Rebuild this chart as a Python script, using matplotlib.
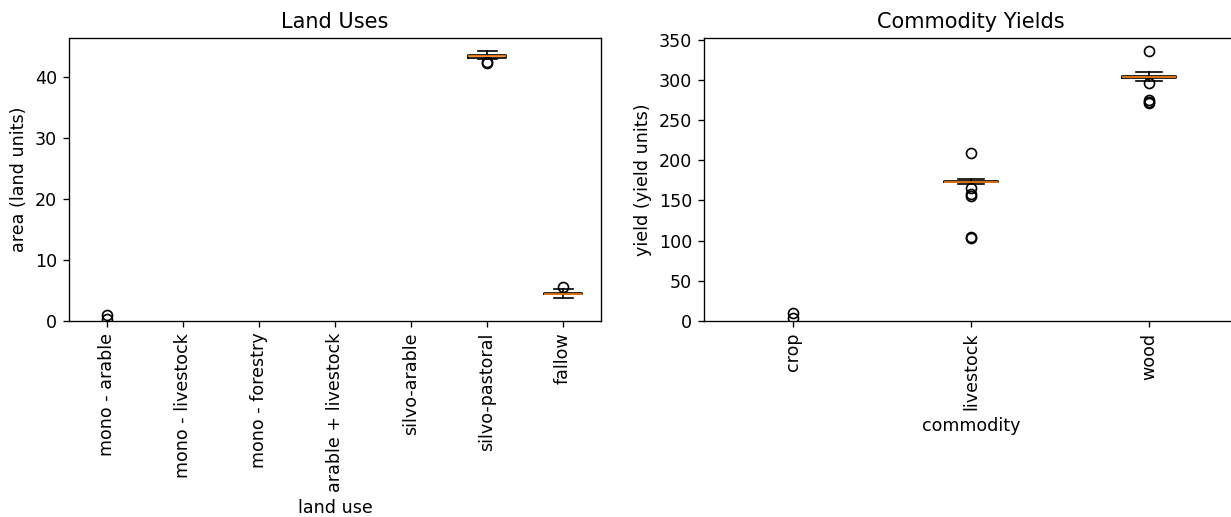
import numpy as np
import matplotlib
matplotlib.use("Agg")
import matplotlib.pyplot as plt

plt.rcParams["font.size"] = 10.5
plt.rcParams["axes.titlesize"] = 12.5

# land use areas (land units) - box stats per category, None = no data
land_uses = ["mono - arable", "mono - livestock", "mono - forestry",
             "arable + livestock", "silvo-arable", "silvo-pastoral", "fallow"]
land_whislo = [0.0, None, None, None, None, 42.9, 3.8]
land_q1 = [0.0, None, None, None, None, 43.2, 4.4]
land_med = [0.0, None, None, None, None, 43.4, 4.5]
land_q3 = [0.0, None, None, None, None, 43.6, 4.6]
land_whishi = [0.0, None, None, None, None, 44.2, 5.2]
land_fliers = [[0.95, 0.3], [], [], [], [], [42.5, 42.3], [5.6]]

# commodity yields (yield units)
commodities = ["crop", "livestock", "wood"]
yield_whislo = [0.0, 171.0, 299.0]
yield_q1 = [0.0, 172.5, 302.0]
yield_med = [0.0, 173.0, 303.0]
yield_q3 = [0.0, 174.0, 304.5]
yield_whishi = [0.0, 176.5, 309.5]
yield_fliers = [[9.5, 4.0], [209, 165, 158, 155, 105, 103], [336, 296, 275, 273, 271]]


def draw_boxes(ax, labels, lo, q1, med, q3, hi, fliers):
    w = 0.5 if len(labels) > 4 else 0.3
    for i in range(len(labels)):
        if med[i] is None:
            continue
        st = dict(whislo=lo[i], q1=q1[i], med=med[i], q3=q3[i],
                  whishi=hi[i], fliers=fliers[i])
        flat = hi[i] == lo[i]
        # boxes that collapse onto zero only show their outliers
        ax.bxp([st], positions=[i + 1], widths=w, showbox=not flat,
               showcaps=not flat,
               medianprops=dict(linewidth=0) if flat else None,
               whiskerprops=dict(linewidth=0) if flat else None)
    ax.set_xlim(0.5, len(labels) + 0.5)
    ax.set_xticks(range(1, len(labels) + 1), labels, rotation=90)


W, H = 1231, 517
fig = plt.figure(figsize=(W / 120, H / 120), dpi=120)

ax1 = fig.add_axes([69 / W, (H - 321) / H, 532 / W, 283 / H])
draw_boxes(ax1, land_uses, land_whislo, land_q1, land_med, land_q3,
           land_whishi, land_fliers)
ax1.set_ylim(0, 46.4)
ax1.set_title("Land Uses")
ax1.set_xlabel("land use")
ax1.set_ylabel("area (land units)")

ax2 = fig.add_axes([704 / W, (H - 321) / H, 534 / W, 283 / H])
draw_boxes(ax2, commodities, yield_whislo, yield_q1, yield_med, yield_q3,
           yield_whishi, yield_fliers)
ax2.set_ylim(0, 352)
ax2.set_title("Commodity Yields")
ax2.set_xlabel("commodity")
ax2.set_ylabel("yield (yield units)")

fig.savefig("out.png", dpi=120)
